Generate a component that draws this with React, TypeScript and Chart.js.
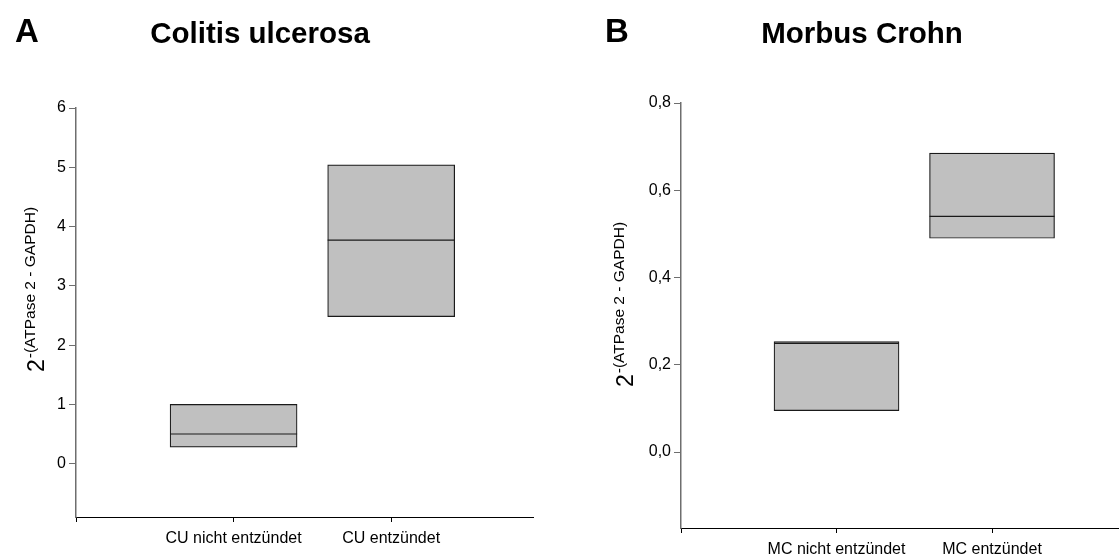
import { useEffect, useRef } from 'react';
import { Chart, registerables } from 'chart.js';

Chart.register(...registerables);

const FONT = '"Liberation Sans", Arial, Helvetica, sans-serif';

// Colitis ulcerosa: box ranges (low/high) and medians per group
const cuCategories = ['CU nicht entzündet', 'CU entzündet'];
const cuLow = [0.28, 2.48];
const cuHigh = [1.0, 5.04];
const cuMedian = [0.5, 3.77];
const cuYTicks = [0, 1, 2, 3, 4, 5, 6];

// Morbus Crohn: box ranges (low/high) and medians per group
const mcCategories = ['MC nicht entzündet', 'MC entzündet'];
const mcLow = [0.095, 0.49];
const mcHigh = [0.253, 0.685];
const mcMedian = [0.249, 0.54];
const mcYTicks = [0, 0.2, 0.4, 0.6, 0.8];

const xTickValues = [0, 1, 2];

type PanelProps = {
  letter: string;
  title: string;
  categories: string[];
  low: number[];
  high: number[];
  median: number[];
  yTicks: number[];
  yMin: number;
  yMax: number;
  xMax: number;
  decimals: number;
  left: number;
  plot: { left: number; top: number; right: number; bottom: number };
  boxWidth: number;
  letterX: number;
  titleX: number;
  axisTitleX: number;
  axisTitleY: number;
};

function Panel(p: PanelProps) {
  const ref = useRef<HTMLCanvasElement | null>(null);

  useEffect(() => {
    const canvas = ref.current;
    if (!canvas) return;
    const W = 560;
    const H = 560;

    const headings = {
      id: 'headings',
      afterDraw(chart: any) {
        const ctx = chart.ctx;
        ctx.save();
        ctx.fillStyle = '#000';
        ctx.textBaseline = 'alphabetic';
        ctx.font = `bold 33px ${FONT}`;
        ctx.textAlign = 'left';
        ctx.fillText(p.letter, p.letterX, 42);
        ctx.font = `bold 29.5px ${FONT}`;
        ctx.textAlign = 'center';
        ctx.fillText(p.title, p.titleX, 43);

        // rotated y-axis title: 2^-(ATPase 2 - GAPDH)
        const base = '2';
        const sup = '-(ATPase 2 - GAPDH)';
        ctx.translate(p.axisTitleX, p.axisTitleY);
        ctx.rotate(-Math.PI / 2);
        ctx.textAlign = 'left';
        ctx.font = `23px ${FONT}`;
        const wBase = ctx.measureText(base).width;
        ctx.font = `15.5px ${FONT}`;
        const wSup = ctx.measureText(sup).width;
        const start = -(wBase + wSup) / 2;
        ctx.font = `23px ${FONT}`;
        ctx.fillText(base, start, 0);
        ctx.font = `15.5px ${FONT}`;
        ctx.fillText(sup, start + wBase + 1, -9);
        ctx.restore();
      },
    };

    const chart = new Chart(canvas, {
      type: 'bar',
      data: {
        datasets: [
          {
            type: 'scatter',
            order: 0,
            data: p.categories.map((_, i) => ({ x: i + 1, y: p.median[i] })),
            pointStyle: 'line',
            pointRadius: p.boxWidth / 2,
            pointHoverRadius: p.boxWidth / 2,
            borderColor: '#1a1a1a',
            borderWidth: 1.2,
          } as any,
          {
            type: 'bar',
            order: 1,
            data: p.categories.map((_, i) => ({ x: i + 1, y: [p.low[i], p.high[i]] })) as any,
            backgroundColor: '#c0c0c0',
            borderColor: '#1a1a1a',
            borderWidth: 1.2,
            borderSkipped: false,
            barThickness: p.boxWidth,
          } as any,
        ],
      },
      options: {
        animation: false,
        responsive: false,
        events: [],
        layout: {
          autoPadding: false,
          padding: { left: 0, top: p.plot.top, right: W - p.plot.right, bottom: 0 },
        },
        plugins: { legend: { display: false }, tooltip: { enabled: false } },
        scales: {
          x: {
            type: 'linear',
            min: 0,
            max: p.xMax,
            offset: false,
            afterBuildTicks(scale: any) {
              scale.ticks = xTickValues.map((v) => ({ value: v }));
            },
            afterFit(scale: any) {
              scale.height = H - p.plot.bottom;
            },
            grid: {
              offset: false,
              drawOnChartArea: false,
              drawTicks: true,
              tickLength: 5,
              color: '#000',
              lineWidth: 1,
            },
            border: { display: true, color: '#000', width: 1 },
            ticks: {
              autoSkip: false,
              maxRotation: 0,
              padding: 7,
              color: '#000',
              font: { family: FONT, size: 16 },
              callback: (v: any) => p.categories[Number(v) - 1] ?? '',
            },
          },
          y: {
            type: 'linear',
            min: p.yMin,
            max: p.yMax,
            afterBuildTicks(scale: any) {
              scale.ticks = p.yTicks.map((v) => ({ value: v }));
            },
            afterFit(scale: any) {
              scale.width = p.plot.left;
            },
            grid: {
              drawOnChartArea: false,
              drawTicks: true,
              tickLength: 7,
              color: '#6e6e6e',
              lineWidth: 1,
            },
            border: { display: true, color: '#6e6e6e', width: 1.5 },
            ticks: {
              padding: 3,
              color: '#000',
              font: { family: FONT, size: 16 },
              callback: (v: any) => Number(v).toFixed(p.decimals).replace('.', ','),
            },
          },
        },
      },
      plugins: [headings],
    } as any);

    return () => chart.destroy();
  }, []);

  return (
    <canvas
      ref={ref}
      width={560}
      height={560}
      style={{ position: 'absolute', left: p.left, top: 0, width: 560, height: 560, display: 'block' }}
    />
  );
}

export default function App() {
  return (
    <div style={{ position: 'fixed', left: 0, top: 0, width: 1120, height: 560, background: '#fff', overflow: 'hidden' }}>
      <Panel
        letter="A"
        title="Colitis ulcerosa"
        categories={cuCategories}
        low={cuLow}
        high={cuHigh}
        median={cuMedian}
        yTicks={cuYTicks}
        yMin={-0.9}
        yMax={6}
        xMax={2.9}
        decimals={0}
        left={0}
        plot={{ left: 76, top: 108, right: 533, bottom: 517 }}
        boxWidth={127}
        letterX={15}
        titleX={260}
        axisTitleX={44}
        axisTitleY={290}
      />
      <Panel
        letter="B"
        title="Morbus Crohn"
        categories={mcCategories}
        low={mcLow}
        high={mcHigh}
        median={mcMedian}
        yTicks={mcYTicks}
        yMin={-0.174}
        yMax={0.8}
        xMax={2.81}
        decimals={1}
        left={560}
        plot={{ left: 121, top: 103, right: 558, bottom: 528 }}
        boxWidth={125}
        letterX={45}
        titleX={302}
        axisTitleX={73}
        axisTitleY={305}
      />
    </div>
  );
}
